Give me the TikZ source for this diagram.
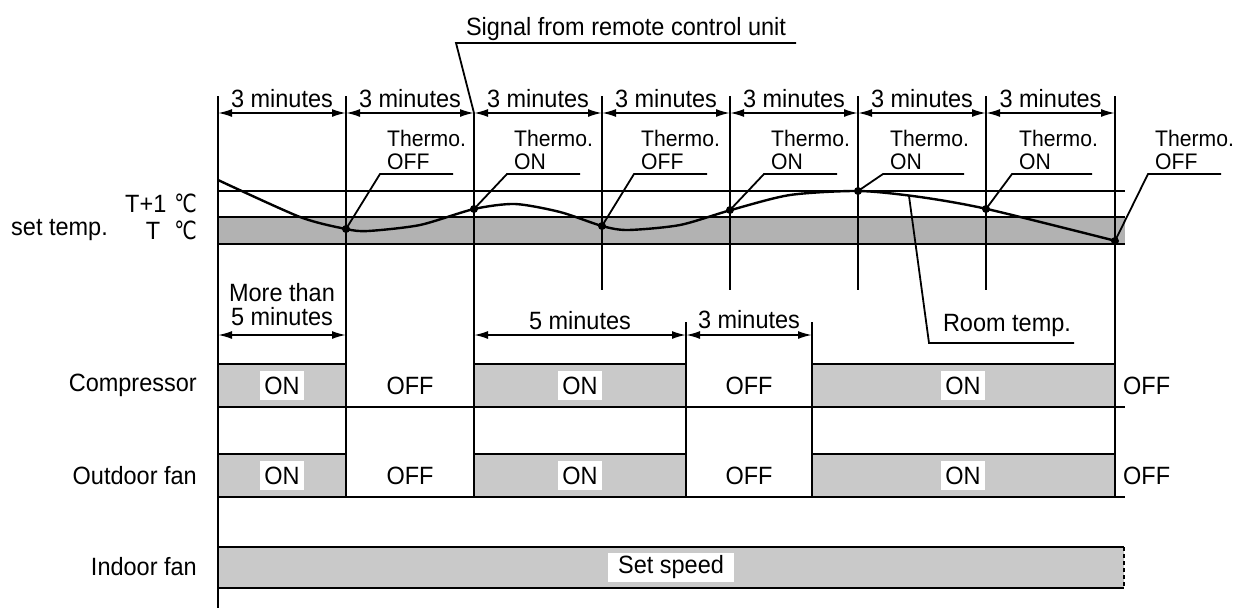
\documentclass[tikz,border=0pt]{standalone}
\usepackage{fontspec}
\setmainfont{Liberation Sans}[FakeStretch=0.94]
\newfontfamily\symbfont{DejaVu Sans}[FakeStretch=0.8]
\usepackage{tikz}
\usetikzlibrary{arrows.meta,positioning,calc}
\definecolor{bandgray}{gray}{0.70}
\definecolor{rowgray}{gray}{0.79}
\tikzstyle{dimline} = [line width=1.8pt,
    {Latex[length=14pt,width=8pt]}-{Latex[length=14pt,width=8pt]}]
\tikzstyle{onlabel} = [fill=white, inner xsep=4pt, inner ysep=0pt,
    minimum height=29pt]
\newcommand{\degC}{{\symbfont ℃}}

\begin{document}
\begin{tikzpicture}[x=1pt, y=-1pt,
    every node/.style={font=\fontsize{25}{24}\selectfont},
    thermo/.style={font=\fontsize{22.5}{23}\selectfont, align=left,
      anchor=south west, inner sep=0pt},
    leader/.style={line width=1.8pt},
    grid/.style={line width=2pt},
    rowline/.style={line width=2.4pt},
    dot/.style={circle, fill=black, inner sep=0pt, minimum size=8pt},
    rowlabel/.style={anchor=east, inner sep=0pt}
  ]
  \useasboundingbox (0,0) rectangle (1234,608);

  % time marks
  \foreach \n/\x in {0/218,1/346,2/474,3/602,4/730,5/858,6/986,7/1115}
    \coordinate (m\n) at (\x,113);

  % temperature band
  \fill[bandgray] (218,217) rectangle (1125,244);
  \draw[rowline] (218,191) -- (1125,191);
  \draw[rowline] (218,217) -- (1125,217);
  \draw[rowline] (218,244) -- (1125,244);
  \node[rowlabel] (tone) at (197,203) {T+1\hspace{8pt}\degC};
  \node[rowlabel] (tset) at (197,230) {T\hspace{14pt}\degC};
  \node[anchor=west, inner sep=0pt] (settemp) at (11,230) {set temp.};

  % compressor and outdoor fan rows
  \foreach \ya/\yb in {364/407, 454/497} {
    \foreach \a/\b in {218/346, 474/686, 812/1115} {
      \fill[rowgray] (\a,\ya) rectangle (\b,\yb);
      \draw[rowline] (\a,\ya) -- (\b,\ya);
    }
    \draw[rowline] (218,\yb) -- (1125,\yb);
  }

  % indoor fan row
  \fill[rowgray] (218,547) rectangle (1124,588);
  \draw[rowline] (218,547) -- (1124,547);
  \draw[rowline] (218,588) -- (1124,588);
  \draw[grid, dashed, dash pattern=on 4pt off 3pt] (1124,547) -- (1124,588);

  % vertical lines
  \draw[grid] (218,96) -- (218,608);
  \foreach \x in {346,1115} \draw[grid] (\x,96) -- (\x,497);
  \foreach \x in {602,730,858,986} \draw[grid] (\x,96) -- (\x,290);
  \draw[grid] (m2) -- (474,497);
  \foreach \x in {686,812} \draw[grid] (\x,322) -- (\x,497);

  % signal
  \node (signal) at (626,29) {Signal from remote control unit};
  \coordinate (sigL) at (456,43);
  \draw[leader] (796,43) -- (sigL) -- (m2);

  \foreach \a/\b in {0/1,1/2,2/3,3/4,4/5,5/6,6/7}
    \draw[dimline] (m\a) -- node[above=1pt] (three\a) {3 minutes} (m\b);

  % room temperature
  \draw[line width=2.4pt] plot[smooth, tension=0.45] coordinates {
    (218,180) (300,217) (346,229) (368,231) (420,225) (474,209)
    (515,204) (560,212) (602,226) (628,230) (680,225) (731,210)
    (790,195) (859,191) (920,197) (987,209) (1116,241)};
  \foreach \n/\x/\y in {1/346/229, 2/474/209, 3/602/226, 4/730/210,
      5/858/191, 6/986/209, 7/1115/241}
    \node[dot] (p\n) at (\x,\y) {};

  \foreach \n/\u/\s/\l in {1/380/OFF/73, 2/507/ON/73, 3/634/OFF/73,
      4/764/ON/73, 5/883/ON/81, 6/1012/ON/80, 7/1148/OFF/73} {
    \coordinate (u\n) at (\u,174);
    \draw[leader] (p\n.center) -- (u\n) -- ++(\l,0);
    \node[thermo] (th\n) at ([xshift=7pt, yshift=4pt]u\n) {Thermo.\\\s};
  }

  \coordinate (rt) at (909,196);
  \node (roomtemp) at (1007,325) {Room temp.};
  \draw[leader] (rt) -- (929,343) -- (1074,343);

  % timing dimensions
  \coordinate (d0) at (218,335);
  \coordinate (d1) at (346,335);
  \coordinate (d2) at (474,335);
  \coordinate (d3) at (686,335);
  \coordinate (d4) at (812,335);
  \draw[dimline] (d0) -- node[above=5pt, align=center] (morethan)
    {More than\\5 minutes} (d1);
  \draw[dimline] (d2) -- node[above=1pt] (five) {5 minutes} (d3);
  \draw[dimline] (d3) -- node[above=2pt] (three) {3 minutes} (d4);

  % row labels
  \node[rowlabel] (comp) at (197,385) {Compressor};
  \node[rowlabel] (outfan) at (197,476) {Outdoor fan};
  \node[rowlabel] (infan) at (197,567) {Indoor fan};

  \foreach \y/\r in {385.5/c, 475.5/o} {
    \node[onlabel] (on\r1) at (282,\y) {ON};
    \node[onlabel] (on\r2) at (580,\y) {ON};
    \node[onlabel] (on\r3) at (963,\y) {ON};
    \node (off\r1) at (410,\y) {OFF};
    \node (off\r2) at (749,\y) {OFF};
    \node[anchor=west, inner sep=0pt] (off\r3) at (1123,\y) {OFF};
  }
  \node[onlabel, inner xsep=10pt] (setspeed) at (671,567.5) {Set speed};
\end{tikzpicture}
\end{document}
